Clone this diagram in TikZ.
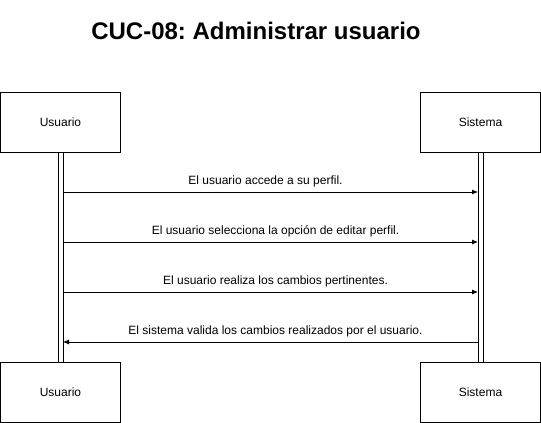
\documentclass[tikz,border=0pt]{standalone}
\usepackage{fontspec}
\setmainfont{Liberation Sans}
\frenchspacing
\usetikzlibrary{arrows.meta,positioning}

\begin{document}
\begin{tikzpicture}[x=1pt,y=-1pt,>={Latex[length=6pt,width=5pt]},
  line width=0.8pt,
  actor box/.style={rectangle,draw,minimum width=120pt,minimum height=60pt,
    outer sep=0pt,font=\fontsize{12}{14}\selectfont},
  life line/.style={rectangle,draw,minimum width=5pt,minimum height=210pt,
    inner sep=0pt,outer sep=0pt},
  msg/.style={->},
  msg text/.style={above=4.5pt,inner sep=0pt,font=\fontsize{12}{14}\selectfont}]
  \useasboundingbox (0,0) rectangle (541,423);

  \node[font=\fontsize{24}{28}\selectfont\bfseries] (title) at (256,31) {CUC-08: Administrar usuario};

  \node[actor box] (uTop) at (60.5,122) {Usuario};
  \node[actor box,right=300pt of uTop] (sTop) {Sistema};
  \node[life line,below=0pt of uTop] (uLine) {};
  \node[life line,below=0pt of sTop] (sLine) {};
  \node[actor box,below=0pt of uLine] (uBot) {Usuario};
  \node[actor box,below=0pt of sLine] (sBot) {Sistema};

  \coordinate (m1) at (0,192);
  \coordinate (m2) at (0,242);
  \coordinate (m3) at (0,292);
  \coordinate (m4) at (0,342);
  \draw[msg] (uLine.east |- m1) -- (sLine.west |- m1)
    node[midway,msg text,xshift=-5pt] {El usuario accede a su perfil.};
  \draw[msg] (uLine.east |- m2) -- (sLine.west |- m2)
    node[midway,msg text,xshift=5pt] {El usuario selecciona la opción de editar perfil.};
  \draw[msg] (uLine.east |- m3) -- (sLine.west |- m3)
    node[midway,msg text,xshift=5pt] {El usuario realiza los cambios pertinentes.};
  \draw[msg] (sLine.west |- m4) -- (uLine.east |- m4)
    node[midway,msg text,xshift=5pt] {El sistema valida los cambios realizados por el usuario.};
\end{tikzpicture}
\end{document}
